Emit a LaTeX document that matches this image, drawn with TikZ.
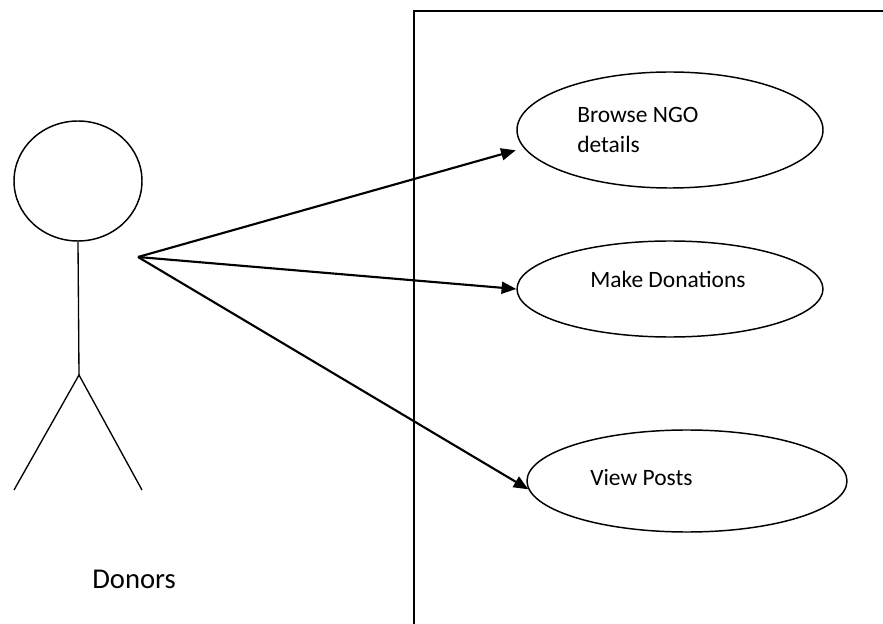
\documentclass[tikz,border=0pt]{standalone}
\usepackage{fontspec}
\setmainfont{Carlito}
\usetikzlibrary{shapes.geometric,arrows.meta}
\tikzset{
  usecase/.style={draw,ellipse,line width=1.1pt,inner sep=0pt},
  casetext/.style={inner sep=0pt,anchor=base west,font=\fontsize{17.6}{22.5}\selectfont,align=left},
  assoc/.style={line width=1.6pt,-{Triangle[length=11pt,width=9pt]}}
}
\begin{document}
\begin{tikzpicture}[x=0.75pt,y=-0.75pt]
  \useasboundingbox (0,0) rectangle (883,624);
  % system boundary
  \draw[line width=2pt] (414,624) -- (414,11) -- (883,11);
  % actor
  \node[draw,ellipse,line width=1.1pt,minimum width=96pt,minimum height=90pt,inner sep=0pt] (head) at (78,181) {};
  \coordinate (hip) at (79,375);
  \coordinate (lfoot) at (14,490);
  \coordinate (rfoot) at (142,490);
  \coordinate (hand) at (138,257);
  \draw[line width=1pt] (head.south) -- (hip);
  \draw[line width=1pt] (lfoot) -- (hip) -- (rfoot);
  \node[inner sep=0pt,anchor=base west,font=\fontsize{21.5}{26}\selectfont] (donors) at (92,588) {Donors};
  % use cases
  \node[usecase,minimum width=229.5pt,minimum height=87pt] (browse) at (670,130) {};
  \node[usecase,minimum width=229.5pt,minimum height=72pt] (donate) at (670,289) {};
  \node[usecase,minimum width=240pt,minimum height=76.5pt] (posts) at (687,481) {};
  \node[casetext] (browsetext) at (577,153) {Browse NGO\\details};
  \node[casetext] (donatetext) at (590,288) {Make Donations};
  \node[casetext] (poststext) at (590,485) {View Posts};
  % associations
  \draw[assoc] (hand) -- ([xshift=-7.5pt]browse.188);
  \draw[assoc] (hand) -- (donate.west);
  \draw[assoc] (hand) -- (posts.183);
\end{tikzpicture}
\end{document}
